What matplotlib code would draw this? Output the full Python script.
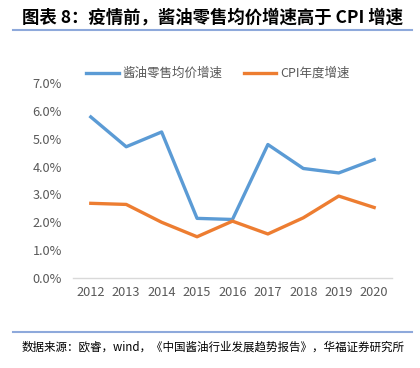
import matplotlib.pyplot as plt
from matplotlib.lines import Line2D

plt.rcParams['font.family'] = ['Noto Sans CJK SC', 'DejaVu Sans']

years = ['2012', '2013', '2014', '2015', '2016', '2017', '2018', '2019', '2020']
soy_price_growth = [5.78, 4.71, 5.24, 2.14, 2.10, 4.79, 3.93, 3.77, 4.25]
cpi_growth = [2.68, 2.64, 2.00, 1.48, 2.04, 1.58, 2.16, 2.94, 2.53]
yticks = [0, 1, 2, 3, 4, 5, 6, 7]

fig = plt.figure(figsize=(4.2, 3.68), dpi=100)
ax = fig.add_axes([0.174, 0.2446, 0.759, 0.53])

x = range(len(years))
ax.plot(x, soy_price_growth, color='#5B9BD5', lw=2.4, label='酱油零售均价增速')
ax.plot(x, cpi_growth, color='#ED7D31', lw=2.4, label='CPI年度增速')

ax.set_xlim(-0.5, len(years) - 0.5)
ax.set_ylim(0, 7)
ax.set_xticks(list(x))
ax.set_xticklabels(years)
ax.set_yticks(yticks)
ax.set_yticklabels(['{:.1f}%'.format(v) for v in yticks])
ax.tick_params(axis='both', length=0, labelsize=9.2, colors='#595959')
ax.tick_params(axis='y', pad=8)
ax.tick_params(axis='x', pad=6)
for s in ['top', 'right', 'left']:
    ax.spines[s].set_visible(False)
ax.spines['bottom'].set_color('#d9d9d9')
ax.spines['bottom'].set_linewidth(1)

fig.legend(loc='center', bbox_to_anchor=(0.519, 0.80), ncol=2, frameon=False,
           fontsize=9, handlelength=2.6, handletextpad=0.3, columnspacing=1.7,
           labelcolor='#595959')

# title and separator lines
fig.text(0.052, 0.953, '图表 8：疫情前，酱油零售均价增速高于 CPI 增速',
         fontsize=12.5, fontweight='bold', va='center', ha='left')
fig.add_artist(Line2D([0.03, 0.98], [1 - 30 / 368, 1 - 30 / 368], color='#8EA9DB', lw=1.5))
fig.add_artist(Line2D([0.03, 0.98], [1 - 332 / 368, 1 - 332 / 368], color='#8EA9DB', lw=1.5))
fig.text(0.052, 1 - 347 / 368, '数据来源：欧睿，wind，《中国酱油行业发展趋势报告》，华福证券研究所',
         fontsize=8.3, va='center', ha='left')

fig.savefig('out.png', dpi=100)
